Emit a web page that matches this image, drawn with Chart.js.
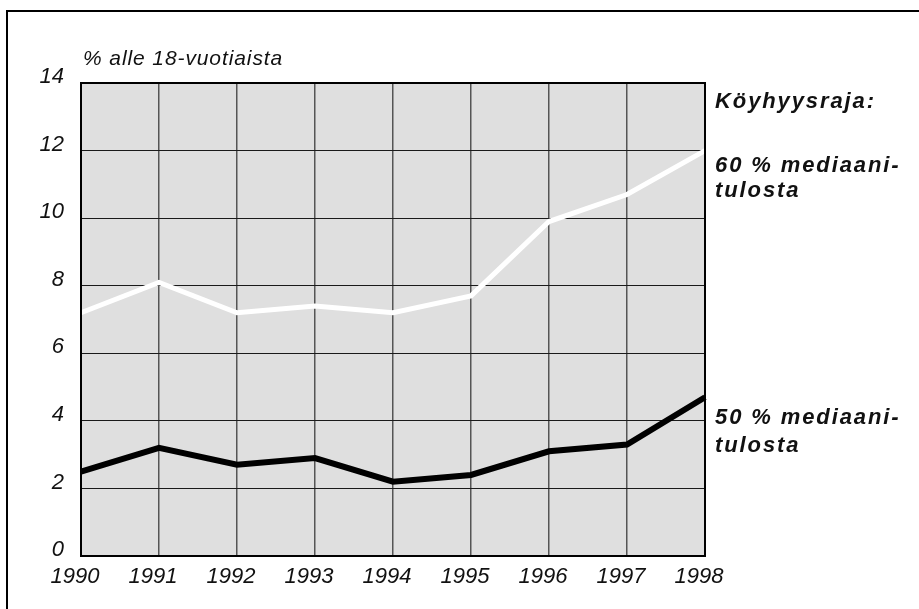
<!DOCTYPE html>
<html>
<head>
<meta charset="utf-8">
<script src="https://cdn.jsdelivr.net/npm/chart.js@4/dist/chart.umd.min.js"></script>
<style>
  html, body { margin: 0; padding: 0; background: #ffffff; }
  #wrap { position: relative; width: 919px; height: 609px; }
</style>
</head>
<body>
<div id="wrap"><canvas id="c" width="919" height="609"></canvas></div>
<script>
const years = ['1990', '1991', '1992', '1993', '1994', '1995', '1996', '1997', '1998'];
const median60 = [7.2, 8.1, 7.2, 7.4, 7.2, 7.7, 9.9, 10.7, 12.0];
const median50 = [2.5, 3.2, 2.7, 2.9, 2.2, 2.4, 3.1, 3.3, 4.7];
const yTicks = [0, 2, 4, 6, 8, 10, 12, 14];
const unitLabel = '% alle 18-vuotiaista';
const legendHeading = 'Köyhyysraja:';
const label60 = ['60 % mediaani-', 'tulosta'];
const label50 = ['50 % mediaani-', 'tulosta'];

const FONT = '"Liberation Sans", Arial, Helvetica, sans-serif';

const decor = {
  id: 'decor',
  beforeDraw(chart) {
    const ctx = chart.ctx;
    const a = chart.chartArea;
    ctx.save();
    ctx.fillStyle = '#ffffff';
    ctx.fillRect(0, 0, chart.width, chart.height);
    // outer frame (top and left edges visible)
    ctx.fillStyle = '#000000';
    ctx.fillRect(6, 10, chart.width, 2);
    ctx.fillRect(6, 10, 2, chart.height);
    // plot background
    ctx.fillStyle = '#dfdfdf';
    ctx.fillRect(a.left, a.top, a.right - a.left, a.bottom - a.top);
    ctx.restore();
  },
  afterDatasetsDraw(chart) {
    const ctx = chart.ctx;
    const a = chart.chartArea;
    const y = chart.scales.y;
    ctx.save();
    // plot border
    ctx.strokeStyle = '#000000';
    ctx.lineWidth = 2;
    ctx.strokeRect(a.left, a.top, a.right - a.left, a.bottom - a.top);
    // unit label
    ctx.fillStyle = '#111111';
    ctx.font = 'italic 21px ' + FONT;
    ctx.letterSpacing = '0.9px';
    ctx.textBaseline = 'alphabetic';
    ctx.textAlign = 'left';
    ctx.fillText(unitLabel, a.left + 2, a.top - 18);
    // right side labels
    ctx.font = 'italic bold 22px ' + FONT;
    ctx.letterSpacing = '1.9px';
    const x = a.right + 10;
    ctx.fillText(legendHeading, x, a.top + 25);
    const y60 = y.getPixelForValue(median60[median60.length - 1]);
    ctx.fillText(label60[0], x, y60 + 21);
    ctx.fillText(label60[1], x, y60 + 46);
    const y50 = y.getPixelForValue(median50[median50.length - 1]);
    ctx.fillText(label50[0], x, y50 + 27);
    ctx.fillText(label50[1], x, y50 + 55);
    ctx.restore();
  }
};

new Chart(document.getElementById('c'), {
  type: 'line',
  data: {
    labels: years,
    datasets: [
      {
        label: label60.join(''),
        data: median60,
        borderColor: '#ffffff',
        borderWidth: 5,
        pointRadius: 0,
        tension: 0,
        fill: false
      },
      {
        label: label50.join(''),
        data: median50,
        borderColor: '#000000',
        borderWidth: 6,
        pointRadius: 0,
        tension: 0,
        fill: false
      }
    ]
  },
  options: {
    responsive: false,
    animation: false,
    devicePixelRatio: 1,
    layout: { padding: { top: 83, right: 214, bottom: 0, left: 0 } },
    plugins: {
      legend: { display: false },
      tooltip: { enabled: false },
      title: { display: false }
    },
    scales: {
      x: {
        type: 'category',
        offset: false,
        afterFit(scale) { scale.height = 53; },
        grid: { color: '#555555', lineWidth: 1.5, drawTicks: false },
        border: { display: false },
        ticks: {
          color: '#111111',
          font: { family: FONT, size: 22, style: 'italic' },
          padding: 8,
          labelOffset: -6,
          maxRotation: 0,
          autoSkip: false
        }
      },
      y: {
        min: 0,
        max: 14,
        afterFit(scale) { scale.width = 81; },
        afterBuildTicks(scale) { scale.ticks = yTicks.map(v => ({ value: v })); },
        grid: { color: '#1a1a1a', lineWidth: 1, drawTicks: false },
        border: { display: false },
        ticks: {
          color: '#111111',
          font: { family: FONT, size: 22, style: 'italic' },
          padding: 17,
          labelOffset: -6
        }
      }
    }
  },
  plugins: [decor]
});
</script>
</body>
</html>
